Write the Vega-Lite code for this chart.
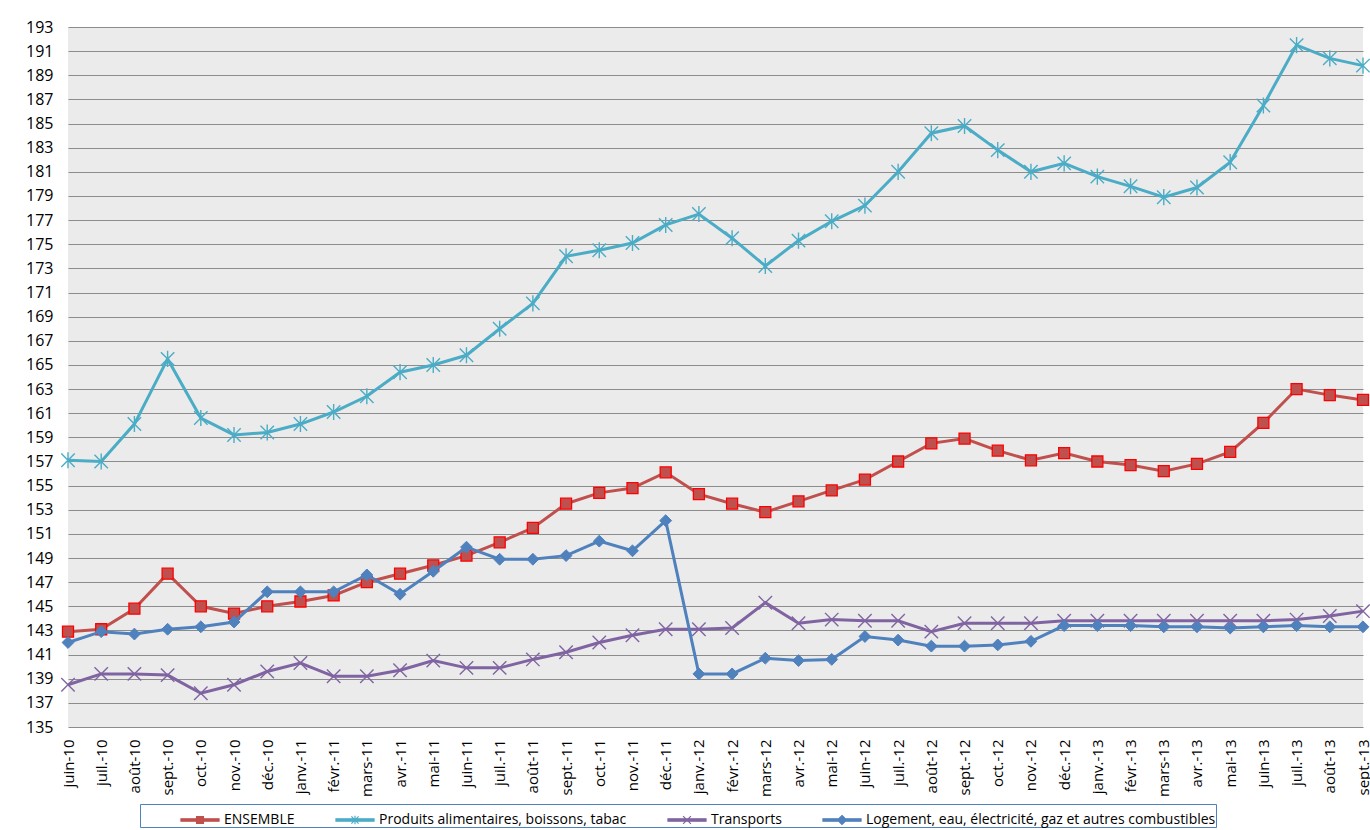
{
  "$schema": "https://vega.github.io/schema/vega-lite/v6.json",
  "autosize": {"type": "none"},
  "width": 1295,
  "height": 700,
  "padding": {"left": 68, "top": 27, "right": 7, "bottom": 103},
  "background": "white",
  "config": {"view": {"fill": "#ebebeb", "stroke": null}, "font": "Open Sans"},
  "data": {"values": [
    {"mois": "juin-10", "ENSEMBLE": 142.9, "Produits alimentaires, boissons, tabac": 157.1, "Transports": 138.5, "Logement, eau, électricité, gaz et autres combustibles": 142.0},
    {"mois": "juil.-10", "ENSEMBLE": 143.1, "Produits alimentaires, boissons, tabac": 157.0, "Transports": 139.4, "Logement, eau, électricité, gaz et autres combustibles": 142.9},
    {"mois": "août-10", "ENSEMBLE": 144.8, "Produits alimentaires, boissons, tabac": 160.1, "Transports": 139.4, "Logement, eau, électricité, gaz et autres combustibles": 142.7},
    {"mois": "sept.-10", "ENSEMBLE": 147.7, "Produits alimentaires, boissons, tabac": 165.5, "Transports": 139.3, "Logement, eau, électricité, gaz et autres combustibles": 143.1},
    {"mois": "oct.-10", "ENSEMBLE": 145.0, "Produits alimentaires, boissons, tabac": 160.6, "Transports": 137.8, "Logement, eau, électricité, gaz et autres combustibles": 143.3},
    {"mois": "nov.-10", "ENSEMBLE": 144.4, "Produits alimentaires, boissons, tabac": 159.2, "Transports": 138.5, "Logement, eau, électricité, gaz et autres combustibles": 143.7},
    {"mois": "déc.-10", "ENSEMBLE": 145.0, "Produits alimentaires, boissons, tabac": 159.4, "Transports": 139.6, "Logement, eau, électricité, gaz et autres combustibles": 146.2},
    {"mois": "janv.-11", "ENSEMBLE": 145.4, "Produits alimentaires, boissons, tabac": 160.1, "Transports": 140.3, "Logement, eau, électricité, gaz et autres combustibles": 146.2},
    {"mois": "févr.-11", "ENSEMBLE": 145.9, "Produits alimentaires, boissons, tabac": 161.1, "Transports": 139.2, "Logement, eau, électricité, gaz et autres combustibles": 146.2},
    {"mois": "mars-11", "ENSEMBLE": 147.0, "Produits alimentaires, boissons, tabac": 162.4, "Transports": 139.2, "Logement, eau, électricité, gaz et autres combustibles": 147.6},
    {"mois": "avr.-11", "ENSEMBLE": 147.7, "Produits alimentaires, boissons, tabac": 164.4, "Transports": 139.7, "Logement, eau, électricité, gaz et autres combustibles": 146.0},
    {"mois": "mai-11", "ENSEMBLE": 148.4, "Produits alimentaires, boissons, tabac": 165.0, "Transports": 140.5, "Logement, eau, électricité, gaz et autres combustibles": 147.9},
    {"mois": "juin-11", "ENSEMBLE": 149.2, "Produits alimentaires, boissons, tabac": 165.8, "Transports": 139.9, "Logement, eau, électricité, gaz et autres combustibles": 149.9},
    {"mois": "juil.-11", "ENSEMBLE": 150.3, "Produits alimentaires, boissons, tabac": 168.0, "Transports": 139.9, "Logement, eau, électricité, gaz et autres combustibles": 148.9},
    {"mois": "août-11", "ENSEMBLE": 151.5, "Produits alimentaires, boissons, tabac": 170.1, "Transports": 140.6, "Logement, eau, électricité, gaz et autres combustibles": 148.9},
    {"mois": "sept.-11", "ENSEMBLE": 153.5, "Produits alimentaires, boissons, tabac": 174.0, "Transports": 141.2, "Logement, eau, électricité, gaz et autres combustibles": 149.2},
    {"mois": "oct.-11", "ENSEMBLE": 154.4, "Produits alimentaires, boissons, tabac": 174.5, "Transports": 142.0, "Logement, eau, électricité, gaz et autres combustibles": 150.4},
    {"mois": "nov.-11", "ENSEMBLE": 154.8, "Produits alimentaires, boissons, tabac": 175.1, "Transports": 142.6, "Logement, eau, électricité, gaz et autres combustibles": 149.6},
    {"mois": "déc.-11", "ENSEMBLE": 156.1, "Produits alimentaires, boissons, tabac": 176.6, "Transports": 143.1, "Logement, eau, électricité, gaz et autres combustibles": 152.1},
    {"mois": "janv.-12", "ENSEMBLE": 154.3, "Produits alimentaires, boissons, tabac": 177.5, "Transports": 143.1, "Logement, eau, électricité, gaz et autres combustibles": 139.4},
    {"mois": "févr.-12", "ENSEMBLE": 153.5, "Produits alimentaires, boissons, tabac": 175.5, "Transports": 143.2, "Logement, eau, électricité, gaz et autres combustibles": 139.4},
    {"mois": "mars-12", "ENSEMBLE": 152.8, "Produits alimentaires, boissons, tabac": 173.2, "Transports": 145.3, "Logement, eau, électricité, gaz et autres combustibles": 140.7},
    {"mois": "avr.-12", "ENSEMBLE": 153.7, "Produits alimentaires, boissons, tabac": 175.3, "Transports": 143.6, "Logement, eau, électricité, gaz et autres combustibles": 140.5},
    {"mois": "mai-12", "ENSEMBLE": 154.6, "Produits alimentaires, boissons, tabac": 176.9, "Transports": 143.9, "Logement, eau, électricité, gaz et autres combustibles": 140.6},
    {"mois": "juin-12", "ENSEMBLE": 155.5, "Produits alimentaires, boissons, tabac": 178.2, "Transports": 143.8, "Logement, eau, électricité, gaz et autres combustibles": 142.5},
    {"mois": "juil.-12", "ENSEMBLE": 157.0, "Produits alimentaires, boissons, tabac": 181.0, "Transports": 143.8, "Logement, eau, électricité, gaz et autres combustibles": 142.2},
    {"mois": "août-12", "ENSEMBLE": 158.5, "Produits alimentaires, boissons, tabac": 184.2, "Transports": 142.9, "Logement, eau, électricité, gaz et autres combustibles": 141.7},
    {"mois": "sept.-12", "ENSEMBLE": 158.9, "Produits alimentaires, boissons, tabac": 184.8, "Transports": 143.6, "Logement, eau, électricité, gaz et autres combustibles": 141.7},
    {"mois": "oct.-12", "ENSEMBLE": 157.9, "Produits alimentaires, boissons, tabac": 182.8, "Transports": 143.6, "Logement, eau, électricité, gaz et autres combustibles": 141.8},
    {"mois": "nov.-12", "ENSEMBLE": 157.1, "Produits alimentaires, boissons, tabac": 181.0, "Transports": 143.6, "Logement, eau, électricité, gaz et autres combustibles": 142.1},
    {"mois": "déc.-12", "ENSEMBLE": 157.7, "Produits alimentaires, boissons, tabac": 181.7, "Transports": 143.8, "Logement, eau, électricité, gaz et autres combustibles": 143.4},
    {"mois": "janv.-13", "ENSEMBLE": 157.0, "Produits alimentaires, boissons, tabac": 180.6, "Transports": 143.8, "Logement, eau, électricité, gaz et autres combustibles": 143.4},
    {"mois": "févr.-13", "ENSEMBLE": 156.7, "Produits alimentaires, boissons, tabac": 179.8, "Transports": 143.8, "Logement, eau, électricité, gaz et autres combustibles": 143.4},
    {"mois": "mars-13", "ENSEMBLE": 156.2, "Produits alimentaires, boissons, tabac": 178.9, "Transports": 143.8, "Logement, eau, électricité, gaz et autres combustibles": 143.3},
    {"mois": "avr.-13", "ENSEMBLE": 156.8, "Produits alimentaires, boissons, tabac": 179.7, "Transports": 143.8, "Logement, eau, électricité, gaz et autres combustibles": 143.3},
    {"mois": "mai-13", "ENSEMBLE": 157.8, "Produits alimentaires, boissons, tabac": 181.8, "Transports": 143.8, "Logement, eau, électricité, gaz et autres combustibles": 143.2},
    {"mois": "juin-13", "ENSEMBLE": 160.2, "Produits alimentaires, boissons, tabac": 186.5, "Transports": 143.8, "Logement, eau, électricité, gaz et autres combustibles": 143.3},
    {"mois": "juil.-13", "ENSEMBLE": 163.0, "Produits alimentaires, boissons, tabac": 191.5, "Transports": 143.9, "Logement, eau, électricité, gaz et autres combustibles": 143.4},
    {"mois": "août-13", "ENSEMBLE": 162.5, "Produits alimentaires, boissons, tabac": 190.4, "Transports": 144.2, "Logement, eau, électricité, gaz et autres combustibles": 143.3},
    {"mois": "sept.-13", "ENSEMBLE": 162.1, "Produits alimentaires, boissons, tabac": 189.8, "Transports": 144.6, "Logement, eau, électricité, gaz et autres combustibles": 143.3}
  ]},
  "transform": [
    {"fold": ["ENSEMBLE", "Produits alimentaires, boissons, tabac", "Transports", "Logement, eau, électricité, gaz et autres combustibles"], "as": ["serie", "valeur"]}
  ],
  "encoding": {
    "x": {
      "field": "mois", "type": "ordinal", "sort": null,
      "scale": {"type": "point", "padding": 0},
      "axis": {"title": null, "labelAngle": -90, "labelPadding": 12, "labelFontSize": 15, "labelColor": "#000000", "labelFont": "Open Sans", "domain": false, "ticks": false, "grid": false, "labelOverlap": false}
    },
    "y": {
      "field": "valeur", "type": "quantitative",
      "scale": {"domain": [135, 193], "nice": false, "zero": false},
      "axis": {"title": null, "values": [135,137,139,141,143,145,147,149,151,153,155,157,159,161,163,165,167,169,171,173,175,177,179,181,183,185,187,189,191,193], "grid": true, "gridColor": "#8c8c8c", "gridOpacity": 1, "gridWidth": 1, "domain": false, "ticks": false, "labelPadding": 15, "labelFontSize": 16, "labelColor": "#000000", "labelFont": "Open Sans"}
    },
    "color": {
      "field": "serie", "type": "nominal",
      "scale": {"domain": ["ENSEMBLE", "Produits alimentaires, boissons, tabac", "Transports", "Logement, eau, électricité, gaz et autres combustibles"], "range": ["#c0504d", "#4bacc6", "#8064a2", "#4f81bd"]},
      "legend": {
        "orient": "none", "legendX": 72, "legendY": 777,
        "direction": "horizontal", "columns": 4,
        "title": " ", "titleOrient": "left", "titlePadding": 44, "titleFontSize": 14,
        "padding": 0, "strokeColor": "#4f81bd", "fillColor": "#ffffff",
        "columnPadding": 38, "labelOffset": 8, "labelFontSize": 14, "labelColor": "#000000", "labelFont": "Open Sans", "labelLimit": 500,
        "symbolSize": 900, "symbolStrokeWidth": 1.2,
        "encode": {"symbols": {"update": {
          "shape": {"signal": "datum.value === 'ENSEMBLE' ? 'M-1.27,-0.08H1.27V0.08H-1.27ZM-0.23,-0.23H0.23V0.23H-0.23Z' : datum.value === 'Transports' ? 'M-1.27,-0.08H1.27V0.08H-1.27ZM-0.26,-0.26L0.26,0.26M-0.26,0.26L0.26,-0.26' : datum.value === 'Produits alimentaires, boissons, tabac' ? 'M-1.27,-0.08H1.27V0.08H-1.27ZM-0.24,-0.24L0.24,0.24M-0.24,0.24L0.24,-0.24M0,-0.28V0.28' : 'M-1.27,-0.08H1.27V0.08H-1.27ZM0,-0.3L0.3,0L0,0.3L-0.3,0Z'"},
          "fill": {"scale": "color", "field": "value"},
          "stroke": {"signal": "datum.value === 'ENSEMBLE' ? '#ff0000' : scale('color', datum.value)"},
          "strokeWidth": {"value": 1.2},
          "opacity": {"value": 1}
        }}}
      }
    }
  },
  "layer": [
    {"transform": [{"filter": "datum.serie === 'ENSEMBLE'"}], "mark": {"type": "line", "strokeWidth": 3}},
    {"transform": [{"filter": "datum.serie === 'ENSEMBLE'"}], "mark": {"type": "point", "shape": "square", "size": 121, "filled": true, "fill": "#c0504d", "stroke": "#ff0000", "strokeWidth": 1.3, "opacity": 1}, "encoding": {"color": {"value": "#c0504d"}}},
    {"transform": [{"filter": "datum.serie === 'Produits alimentaires, boissons, tabac'"}], "mark": {"type": "line", "strokeWidth": 3}},
    {"transform": [{"filter": "datum.serie === 'Produits alimentaires, boissons, tabac'"}], "mark": {"type": "point", "shape": "M-1,-1L1,1M-1,1L1,-1M0,-1.2V1.2", "size": 180, "filled": false, "stroke": "#4bacc6", "strokeWidth": 1.4, "opacity": 1}, "encoding": {"color": {"value": "#4bacc6"}}},
    {"transform": [{"filter": "datum.serie === 'Transports'"}], "mark": {"type": "line", "strokeWidth": 3}},
    {"transform": [{"filter": "datum.serie === 'Transports'"}], "mark": {"type": "point", "shape": "M-1,-1L1,1M-1,1L1,-1", "size": 180, "filled": false, "stroke": "#8064a2", "strokeWidth": 1.4, "opacity": 1}, "encoding": {"color": {"value": "#8064a2"}}},
    {"transform": [{"filter": "datum.serie === 'Logement, eau, électricité, gaz et autres combustibles'"}], "mark": {"type": "line", "strokeWidth": 3}},
    {"transform": [{"filter": "datum.serie === 'Logement, eau, électricité, gaz et autres combustibles'"}], "mark": {"type": "point", "shape": "diamond", "size": 140, "filled": true, "fill": "#4f81bd", "stroke": "#4f81bd", "strokeWidth": 1, "opacity": 1}, "encoding": {"color": {"value": "#4f81bd"}}}
  ]
}
